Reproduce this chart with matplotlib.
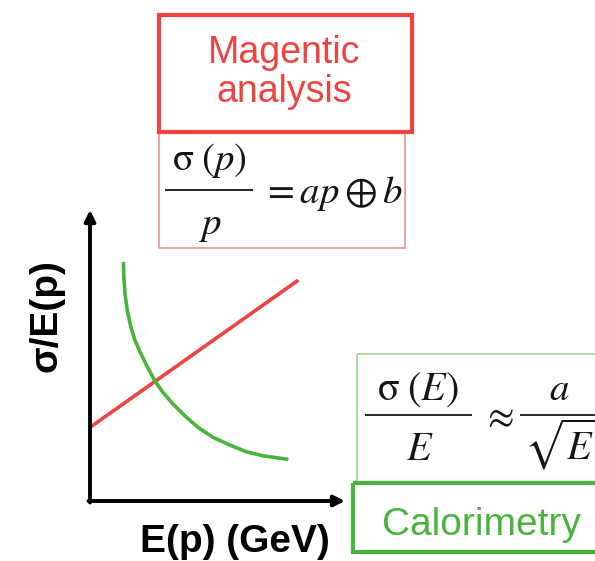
import numpy as np
import matplotlib.pyplot as plt
from matplotlib.patches import Rectangle

plt.rcParams['font.family'] = ['Liberation Sans', 'DejaVu Sans']
plt.rcParams['mathtext.fontset'] = 'stix'

# schematic resolution curves (arbitrary units)
red_E = [0.0, 8.17]
red_sigma = [2.53, 7.59]

green_E = [1.31, 1.32, 1.37, 1.46, 1.60, 1.76, 1.99, 2.25, 2.55, 2.87,
           3.27, 3.73, 4.25, 4.84, 5.49, 6.14, 6.80, 7.78]
green_sigma = [8.22, 7.82, 7.13, 6.56, 5.99, 5.53, 5.07, 4.61, 4.12, 3.72,
               3.32, 2.92, 2.52, 2.18, 1.92, 1.69, 1.55, 1.43]

xlabel = "E(p) (GeV)"
ylabel = "σ/E(p)"
red_title = ["Magentic", "analysis"]
green_title = "Calorimetry"

RED = '#ef4340'
RED_LIGHT = '#f29090'
GREEN = '#48b43c'
GREEN_LIGHT = '#9fd993'
INK = '#151515'

W, H = 595, 561
fig = plt.figure(figsize=(W / 100, H / 100), dpi=100)

# overlay in pixel coords for boxes and labels
ov = fig.add_axes([0, 0, 1, 1])
ov.set_xlim(0, W)
ov.set_ylim(H, 0)
ov.axis('off')

# plot area
ax = fig.add_axes([90 / W, (H - 501) / H, (345 - 90) / W, (501 - 210) / H])
ax.set_xlim(0, 10)
ax.set_ylim(0, 10)
ax.set_axis_off()

ax.plot(red_E, red_sigma, color=RED, lw=2.6, solid_capstyle='butt')
ax.plot(green_E, green_sigma, color=GREEN, lw=2.6, solid_capstyle='butt',
        solid_joinstyle='round')

arrow = dict(arrowstyle='-|>', lw=2.8, color='black', mutation_scale=16,
             shrinkA=0, shrinkB=0)
ax.annotate('', xy=(1, 0), xytext=(-0.006, 0), xycoords='axes fraction', arrowprops=arrow)
ax.annotate('', xy=(0, 1), xytext=(0, -0.005), xycoords='axes fraction', arrowprops=arrow)

# boxes
ov.add_patch(Rectangle((159, 132), 246, 116, fill=False, ec=RED_LIGHT, lw=1.2))
ov.add_patch(Rectangle((159, 15), 253, 117, fill=False, ec=RED, lw=3))
ov.add_patch(Rectangle((357, 354), 260, 129, fill=False, ec=GREEN_LIGHT, lw=1.2))
ov.add_patch(Rectangle((353, 483), 260, 69, fill=False, ec=GREEN, lw=3))

# box titles
ov.text(284, 63, red_title[0], color=RED, fontsize=27, ha='center', va='baseline')
ov.text(284, 102, red_title[1], color=RED, fontsize=27, ha='center', va='baseline')
ov.text(482, 535, green_title, color=GREEN, fontsize=28, ha='center', va='baseline')

# formula: sigma(p)/p = ap (+) b
fs = 28
ov.text(209, 170, r"$\mathrm{\sigma}\;(p)$", fontsize=fs, color=INK, ha='center', va='baseline')
ov.hlines(190, 165, 253, color=INK, lw=1.3)
ov.text(211, 234, r"$p$", fontsize=fs, color=INK, ha='center', va='baseline')
ov.text(262, 203, r"$=ap\oplus b$", fontsize=fs, color=INK, ha='left', va='baseline')

# formula: sigma(E)/E ~ a/sqrt(E)
ov.text(418, 400, r"$\mathrm{\sigma}\;(E)$", fontsize=29, color=INK, ha='center', va='baseline')
ov.hlines(415, 365, 472, color=INK, lw=1.3)
ov.text(420, 460, r"$E$", fontsize=29, color=INK, ha='center', va='baseline')
ov.text(498, 417, r"$\approx$", fontsize=fs, color=INK, ha='center', va='center')
ov.text(559, 400, r"$a$", fontsize=fs, color=INK, ha='center', va='baseline')
ov.hlines(415, 520, 600, color=INK, lw=1.3)
ov.text(524, 460, r"$\sqrt{E}$", fontsize=29, color=INK, ha='left', va='baseline')

# axis labels
ov.text(235, 552, xlabel, fontsize=28, fontweight='bold', ha='center', va='baseline')
ov.text(47, 316, ylabel, fontsize=28, fontweight='bold', ha='center', va='center',
        rotation=90)

fig.savefig('out.png', dpi=100)
